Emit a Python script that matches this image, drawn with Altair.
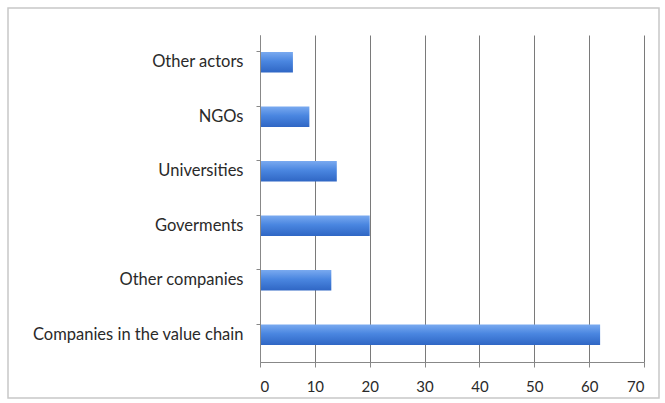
import altair as alt
import pandas as pd

categories = ["Other actors", "NGOs", "Universities", "Goverments", "Other companies", "Companies in the value chain"]
values = [6, 9, 14, 20, 13, 62]
x_ticks = [0, 10, 20, 30, 40, 50, 60, 70]

df = pd.DataFrame({"category": categories, "value": values})

grad = alt.Gradient(
    gradient="linear",
    stops=[
        alt.GradientStop(color="#7aaaf0", offset=0),
        alt.GradientStop(color="#4a86e0", offset=0.45),
        alt.GradientStop(color="#2f66c4", offset=1),
    ],
    x1=0, x2=0, y1=0, y2=1,
)

frame = alt.Chart(pd.DataFrame({"a": [0]})).mark_rect(
    fillOpacity=0, stroke="#c8c8c8", strokeWidth=1.5
).encode(
    x=alt.value(-252), x2=alt.value(399), y=alt.value(-27), y2=alt.value(363)
)

bars = alt.Chart(df).mark_bar(color=grad).encode(
    y=alt.Y(
        "category:N",
        sort=categories,
        title=None,
        scale=alt.Scale(paddingInner=0.62, paddingOuter=0.31),
        axis=alt.Axis(
            bandPosition=0,
            ticks=True,
            tickSize=4,
            tickColor="#888888",
            domainColor="#888888",
            labelPadding=13,
            labelFont="Lato",
            labelFontSize=16.5,
            labelLimit=400,
            labelColor="#2a2a2a",
            grid=False,
            zindex=1,
        ),
    ),
    x=alt.X(
        "value:Q",
        title=None,
        scale=alt.Scale(domain=[0, 70], nice=False),
        axis=alt.Axis(
            values=x_ticks,
            tickSize=5,
            tickColor="#888888",
            domainColor="#888888",
            grid=True,
            gridColor="#7a7a7a",
            gridWidth=1,
            labelPadding=12,
            labelFont="Lato",
            labelFontSize=15,
            labelColor="#2a2a2a",
        ),
    ),
)

chart = alt.layer(frame, bars).properties(
    width=384,
    height=327,
    autosize=alt.AutoSizeParams(type="none"),
    padding={"left": 260, "top": 35, "right": 21, "bottom": 41},
    background="white",
).configure_view(stroke=None)

chart.save("out.html", embed_options={"renderer": "svg", "actions": False})
